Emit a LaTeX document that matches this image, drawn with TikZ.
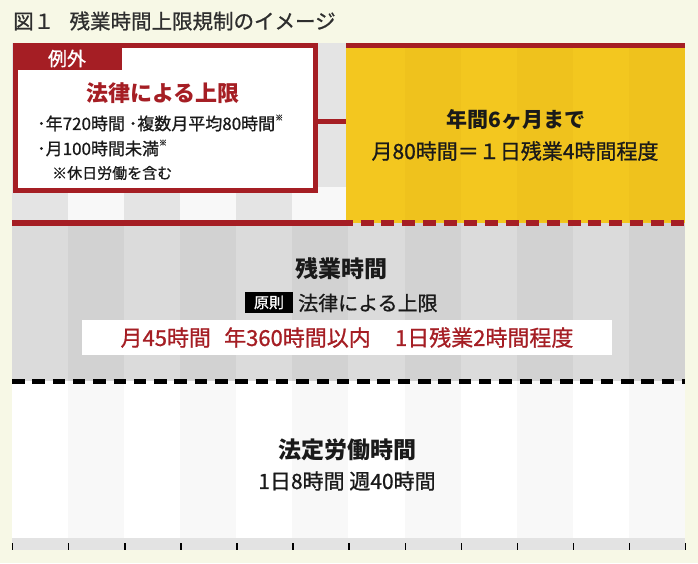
\documentclass[tikz,border=0pt]{standalone}
\usepackage{fontspec}
\setmainfont{Noto Sans CJK JP}
\newfontfamily\medium[FakeBold=0.9]{Noto Sans CJK JP}
\definecolor{cream}{HTML}{F7F8E6}
\definecolor{jred}{HTML}{A51E24}
\definecolor{jyellow}{HTML}{F3C71F}
\definecolor{jyellowb}{HTML}{EFC21D}
\definecolor{upA}{HTML}{E4E4E4}
\definecolor{upB}{HTML}{F8F8F8}
\definecolor{midA}{HTML}{DBDBDB}
\definecolor{midB}{HTML}{D2D2D2}
\definecolor{lowA}{HTML}{FFFFFF}
\definecolor{lowB}{HTML}{F8F8F8}
\definecolor{band}{HTML}{E3E3E3}
\definecolor{titlec}{HTML}{2E2E2E}
\definecolor{txt}{HTML}{1A1A1A}
\newcommand{\fs}[1]{\fontsize{#1}{#1}\selectfont}
\begin{document}
\begin{tikzpicture}[x=1pt,y=-1pt,
  lbl/.style={inner sep=0pt, text=txt},
  redrule/.style={draw=jred, line width=6pt},
  blackdash/.style={draw=black, line width=5.5pt, dash pattern=on 12.5pt off 7.8pt},
  reddash/.style={draw=jred, line width=6pt, dash pattern=on 13pt off 7.7pt, dash phase=13pt}]
\useasboundingbox (0,0) rectangle (698,563);
\fill[cream] (0,0) rectangle (698,563);
% column stripes
\foreach \i in {0,2,...,10} {
  \fill[upA]  ({12+56.08*\i},43) rectangle ({12+56.08*(\i+1)},223);
  \fill[midA] ({12+56.08*\i},223) rectangle ({12+56.08*(\i+1)},381);
  \fill[lowA] ({12+56.08*\i},381) rectangle ({12+56.08*(\i+1)},538);
}
\foreach \i in {1,3,...,11} {
  \fill[upB]  ({12+56.08*\i},43) rectangle ({12+56.08*(\i+1)},223);
  \fill[midB] ({12+56.08*\i},223) rectangle ({12+56.08*(\i+1)},381);
  \fill[lowB] ({12+56.08*\i},381) rectangle ({12+56.08*(\i+1)},538);
}
\fill[upA] (318,43) rectangle (346,187);
% bottom band with ticks
\fill[band] (12,538) rectangle (685,550);
\foreach \i in {0,...,12} {
  \draw[black, line width=1.4pt] ({12.7+56.08*\i},543) -- ({12.7+56.08*\i},550);
}
% yellow box
\fill[jyellow] (346,43) rectangle (685,223);
\foreach \i in {7,9,11} {
  \fill[jyellowb] ({12+56.08*\i},48) rectangle ({min(12+56.08*(\i+1),685)},222);
}
\node[inner sep=0pt, minimum width=339pt, minimum height=180pt] (yel) at (515.5,133) {};
\draw[jred, line width=5pt] (346,45.5) -- (685,45.5);
% horizontal rules
\draw[redrule] (12,223) -- (353,223);
\draw[reddash] (353,223) -- (685,223);
\draw[blackdash] (12,381.5) -- (685,381.5);
% exception box
\node[draw=jred, line width=5pt, fill=white, minimum width=300.5pt, minimum height=145pt, inner sep=0pt] (exc) at (165.25,118) {};
\fill[jred] (12.5,43) rectangle (122,70);
\node[lbl, text=white] (tab) at (67,58.5) {\fs{19}\medium 例外};
\draw[jred, line width=5pt] ([yshift=-3pt]exc.east) -- ([yshift=-3pt]exc.east -| yel.west);
% title
\node[lbl, text=titlec, anchor=west] (title) at (13,21) {\fs{20.5}\medium 図１\hspace{0.75em}残業時間上限規制のイメージ};
% exception texts
\node[lbl, text=jred] (exchead) at (163,93) {\fs{22}\bfseries 法律による上限};
\node[lbl, anchor=west] (exc1) at (37,123) {\fs{17}\medium ･年720時間 ･複数月平均80時間\raisebox{0.55em}{\fs{8}※}};
\node[lbl, anchor=west] (exc2) at (37,148) {\fs{17}\medium ･月100時間未満\raisebox{0.55em}{\fs{8}※}};
\node[lbl, anchor=west] (exc3) at (52,173) {\fs{15}\medium ※休日労働を含む};
% yellow texts
\node[lbl] (y1) at (516,120) {\fs{21}\bfseries 年間6ヶ月まで};
\node[lbl] (y2) at (515,151) {\fs{21}\medium 月80時間＝１日残業4時間程度};
% middle texts
\node[lbl] (mid1) at (341,269) {\fs{23}\bfseries 残業時間};
\node[fill=black, text=white, inner sep=0pt, minimum width=48pt, minimum height=21pt] (gen) at (269,302.5) {\fs{15}\medium 原則};
\node[lbl, anchor=west] (mid2) at (298,303) {\fs{20}\medium 法律による上限};
\node[fill=white, inner sep=0pt, minimum width=530pt, minimum height=35pt, text=jred] (wb) at (347,337.5) {\fs{22}\medium 月45時間\hspace{0.6em}年360時間以内\hspace{1.1em}1日残業2時間程度};
% lower texts
\node[lbl] (low1) at (347,450) {\fs{23}\bfseries 法定労働時間};
\node[lbl] (low2) at (347,481) {\fs{21}\medium 1日8時間 週40時間};
\end{tikzpicture}
\end{document}
